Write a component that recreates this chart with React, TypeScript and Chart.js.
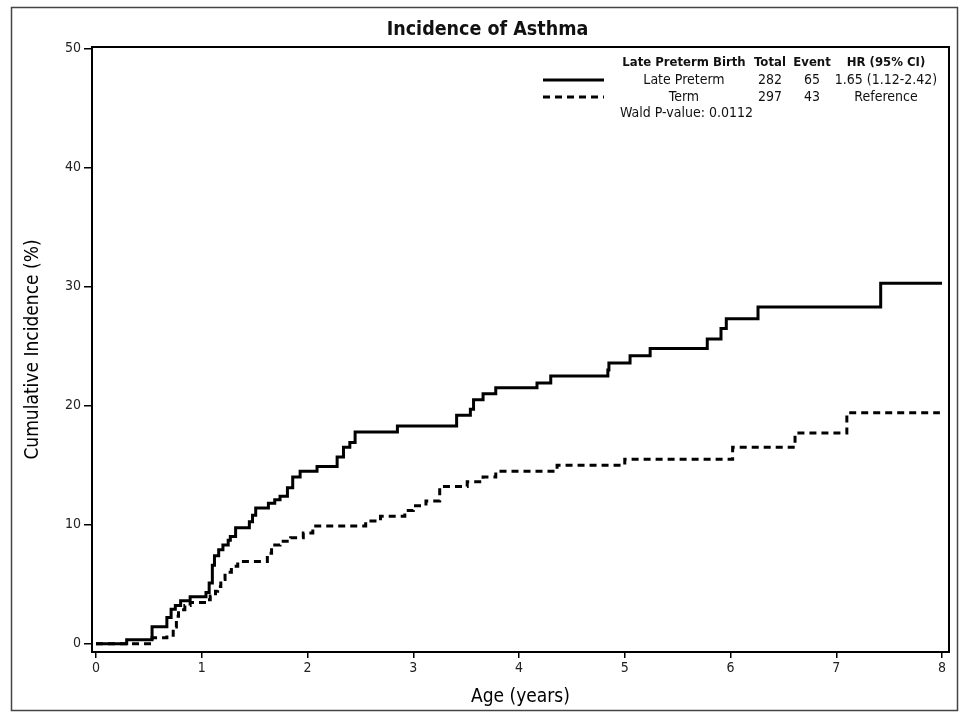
import React, { useEffect, useRef } from "react";
import { Chart, registerables } from "chart.js";

Chart.register(...registerables);

// ---- Data ----
const latePretermX = [0, 0.29, 0.53, 0.67, 0.71, 0.75, 0.8, 0.89, 1.04, 1.07, 1.1, 1.12, 1.16, 1.2, 1.25, 1.27, 1.32, 1.45, 1.48, 1.51, 1.63, 1.69, 1.74, 1.81, 1.86, 1.93, 2.09, 2.28, 2.34, 2.4, 2.45, 2.85, 3.41, 3.54, 3.57, 3.66, 3.78, 4.17, 4.3, 4.84, 4.85, 5.05, 5.24, 5.78, 5.91, 5.96, 6.26, 7.42, 8.0];
const latePretermY = [0, 0.34, 1.43, 2.2, 2.9, 3.2, 3.6, 3.95, 4.3, 5.1, 6.6, 7.4, 7.9, 8.3, 8.7, 9.0, 9.75, 10.25, 10.8, 11.4, 11.8, 12.1, 12.4, 13.1, 14.0, 14.5, 14.9, 15.7, 16.5, 16.9, 17.8, 18.3, 19.2, 19.7, 20.5, 21.0, 21.5, 21.9, 22.5, 23.0, 23.6, 24.2, 24.8, 25.6, 26.5, 27.3, 28.3, 30.3, 30.3];

const termX = [0, 0.53, 0.67, 0.73, 0.76, 0.78, 0.84, 0.89, 1.05, 1.08, 1.13, 1.15, 1.18, 1.22, 1.28, 1.34, 1.62, 1.66, 1.74, 1.84, 1.96, 2.05, 2.55, 2.69, 2.92, 3.0, 3.12, 3.25, 3.51, 3.66, 3.78, 4.36, 5.0, 6.02, 6.61, 7.1, 7.98];
const termY = [0, 0.5, 0.7, 1.4, 2.3, 2.85, 3.2, 3.45, 3.7, 4.0, 4.4, 4.8, 5.4, 6.0, 6.5, 6.9, 7.6, 8.3, 8.6, 8.9, 9.3, 9.9, 10.3, 10.7, 11.2, 11.6, 12.0, 13.2, 13.6, 14.0, 14.5, 15.0, 15.5, 16.5, 17.7, 19.4, 19.4];

const xTicks = [0, 1, 2, 3, 4, 5, 6, 7, 8];
const yTicks = [0, 10, 20, 30, 40, 50];

const titleText = "Incidence of Asthma";
const xTitle = "Age (years)";
const yTitle = "Cumulative Incidence (%)";
const legendHeader = ["Late Preterm Birth", "Total", "Event", "HR (95% CI)"];
const legendRows = [
  ["Late Preterm", "282", "65", "1.65 (1.12-2.42)"],
  ["Term", "297", "43", "Reference"],
];
const waldText = "Wald P-value: 0.0112";

const FONT = "'DejaVu Sans Condensed', 'DejaVu Sans', sans-serif";

const decorPlugin = {
  id: "decor",
  afterDraw(chart: any) {
    const ctx = chart.ctx;
    const a = chart.chartArea;
    ctx.save();
    // outer figure border
    ctx.strokeStyle = "#444";
    ctx.lineWidth = 1.5;
    ctx.strokeRect(11.5, 7.5, 946, 703);
    // plot frame
    ctx.strokeStyle = "#000";
    ctx.lineWidth = 2;
    ctx.strokeRect(a.left, a.top, a.right - a.left, a.bottom - a.top);
    // title
    ctx.fillStyle = "#111";
    ctx.font = `bold 19.5px ${FONT}`;
    ctx.textAlign = "center";
    ctx.textBaseline = "middle";
    ctx.fillText(titleText, (a.left + a.right) / 2 - 33, 30);
    // legend
    const cols = [684, 770, 812, 886];
    ctx.font = `bold 13px ${FONT}`;
    legendHeader.forEach((t, i) => ctx.fillText(t, cols[i], 63));
    ctx.font = `14px ${FONT}`;
    legendRows.forEach((row, r) => {
      const y = 80 + r * 17;
      row.forEach((t, i) => ctx.fillText(t, cols[i], y));
      ctx.beginPath();
      ctx.lineWidth = 3;
      ctx.setLineDash(r === 0 ? [] : [7, 5]);
      ctx.moveTo(543, y);
      ctx.lineTo(604, y);
      ctx.stroke();
    });
    ctx.setLineDash([]);
    ctx.textAlign = "left";
    ctx.fillText(waldText, 620, 113);
    ctx.restore();
  },
};

export default function App() {
  const ref = useRef<HTMLCanvasElement | null>(null);
  useEffect(() => {
    document.body.style.margin = "0";
    const canvas = ref.current;
    if (!canvas) return;
    const chart = new Chart(canvas, {
      type: "line",
      data: {
        datasets: [
          {
            label: "Late Preterm",
            data: latePretermX.map((x, i) => ({ x, y: latePretermY[i] })),
            borderColor: "#000",
            borderWidth: 3,
            stepped: "before",
            pointRadius: 0,
            fill: false,
          },
          {
            label: "Term",
            data: termX.map((x, i) => ({ x, y: termY[i] })),
            borderColor: "#000",
            borderWidth: 3,
            borderDash: [7, 5],
            stepped: "before",
            pointRadius: 0,
            fill: false,
          },
        ],
      },
      options: {
        responsive: false,
        animation: false,
        devicePixelRatio: 1,
        layout: { padding: { left: 20, right: 17, top: 47, bottom: 8 } },
        plugins: { legend: { display: false }, tooltip: { enabled: false }, title: { display: false } },
        scales: {
          x: {
            type: "linear",
            min: -0.038,
            max: 8.066,
            afterBuildTicks: (s: any) => {
              s.ticks = xTicks.map((v) => ({ value: v }));
            },
            afterFit: (s: any) => {
              s.height = 58;
            },
            grid: { drawOnChartArea: false, drawTicks: true, tickLength: 6, color: "#000", lineWidth: 1.5 },
            border: { display: false },
            ticks: { color: "#222", font: { family: FONT, size: 14 }, padding: 2, maxRotation: 0 },
            title: { display: true, text: xTitle, color: "#000", font: { family: FONT, size: 19 }, padding: { top: 4, bottom: 2 } },
          },
          y: {
            type: "linear",
            min: -0.7,
            max: 50.15,
            afterBuildTicks: (s: any) => {
              s.ticks = yTicks.map((v) => ({ value: v }));
            },
            afterFit: (s: any) => {
              s.width = 72;
            },
            grid: { drawOnChartArea: false, drawTicks: true, tickLength: 8, color: "#000", lineWidth: 1.5 },
            border: { display: false },
            ticks: { color: "#222", font: { family: FONT, size: 14 }, padding: 3 },
            title: { display: true, text: yTitle, color: "#000", font: { family: FONT, size: 19 }, padding: { top: 2, bottom: 4 } },
          },
        },
      },
      plugins: [decorPlugin],
    } as any);
    return () => chart.destroy();
  }, []);
  return <canvas ref={ref} width={966} height={718} style={{ display: "block", background: "#fff" }} />;
}
